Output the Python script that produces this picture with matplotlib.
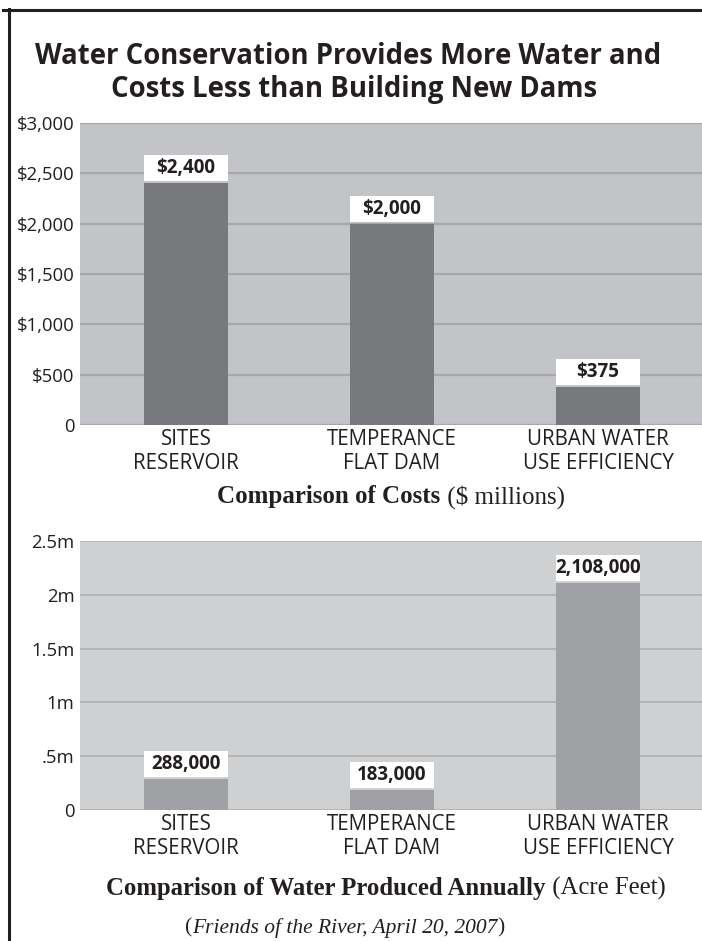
import matplotlib
matplotlib.use("Agg")
import matplotlib.pyplot as plt
from matplotlib import font_manager
from matplotlib.lines import Line2D

# ---------------- data ----------------
categories = ["SITES\nRESERVOIR", "TEMPERANCE\nFLAT DAM", "URBAN WATER\nUSE EFFICIENCY"]
costs = [2400, 2000, 375]
cost_labels = ["$2,400", "$2,000", "$375"]
cost_ticks = [0, 500, 1000, 1500, 2000, 2500, 3000]
cost_tick_labels = ["0", "$500", "$1,000", "$1,500", "$2,000", "$2,500", "$3,000"]
water = [288000, 183000, 2108000]
water_labels = ["288,000", "183,000", "2,108,000"]
water_ticks = [0, 500000, 1000000, 1500000, 2000000, 2500000]
water_tick_labels = ["0", ".5m", "1m", "1.5m", "2m", "2.5m"]

title_lines = ["Water Conservation Provides More Water and",
               "Costs Less than Building New Dams"]
caption1 = [("Comparison of Costs", "bold", "normal"), (" ($ millions)", "normal", "normal")]
caption2 = [("Comparison of Water Produced Annually", "bold", "normal"),
            (" (Acre Feet)", "normal", "normal")]
source = [("(", "normal", "normal"), ("Friends of the River, April 20, 2007", "normal", "italic"),
          (")", "normal", "normal")]

# ---------------- fonts ----------------
available = {f.name for f in font_manager.fontManager.ttflist}
def pick(*names):
    for n in names:
        if n in available:
            return n
    return "DejaVu Sans"
SANS = pick("Open Sans", "Noto Sans", "DejaVu Sans")
SERIF = pick("Liberation Serif", "DejaVu Serif")

W, H = 702, 941
fig = plt.figure(figsize=(W / 100, H / 100), dpi=100)
fig.patch.set_facecolor("white")

def fx(px):
    return px / W

def fy(px):
    return 1 - px / H

TXT = "#231f20"

# frame lines
fig.add_artist(Line2D([fx(3), 1.0], [fy(9.5), fy(9.5)], color=TXT, lw=2.2,
                      transform=fig.transFigure))
fig.add_artist(Line2D([fx(9), fx(9)], [fy(8.5), 0.0], color=TXT, lw=2.2,
                      transform=fig.transFigure))

# title
fig.text(fx(348), fy(56), title_lines[0], ha="center", va="center",
         fontsize=19.8, fontweight="bold", family=SANS, color=TXT)
fig.text(fx(354), fy(89), title_lines[1], ha="center", va="center",
         fontsize=19.8, fontweight="bold", family=SANS, color=TXT)

x = list(range(len(categories)))
XLIM = (-0.515, 2.505)
BW = 0.408

def style_axes(ax, bg, grid_c, ticks, ticklabels, ymax, grid_lw):
    ax.set_facecolor(bg)
    ax.set_xlim(*XLIM)
    ax.set_ylim(0, ymax)
    ax.set_yticks(ticks)
    ax.set_yticklabels(ticklabels, family=SANS, fontsize=13.3, color=TXT)
    ax.set_xticks(x)
    ax.set_xticklabels(categories, family=SANS, fontsize=14.8, color=TXT,
                       linespacing=1.15)
    ax.tick_params(axis="both", length=0)
    ax.tick_params(axis="y", pad=4)
    ax.tick_params(axis="x", pad=3)
    for s in ax.spines.values():
        s.set_visible(False)
    ax.grid(axis="y", color=grid_c, lw=grid_lw)
    ax.set_axisbelow(True)

def value_boxes(ax, vals, labels, ax_px_h, ymax, box_px=26, gap_px=2):
    per_px = ymax / ax_px_h
    bh = box_px * per_px
    gap = gap_px * per_px
    bottoms = [v + gap for v in vals]
    ax.bar(x, [bh] * len(vals), bottom=bottoms, width=BW, color="white", zorder=4)
    for xi, b, lab in zip(x, bottoms, labels):
        ax.text(xi, b + bh / 2, lab, ha="center", va="center", family=SANS,
                fontsize=13.5, fontweight="bold", color=TXT, zorder=5)

# ---------------- top chart ----------------
top_px, bot_px = 123, 425
ax1 = fig.add_axes([fx(80), fy(bot_px), 1 - fx(80), (bot_px - top_px) / H])
style_axes(ax1, "#c3c4c8", "#a7a8ac", cost_ticks, cost_tick_labels, 3000, 1.6)
ax1.bar(x, costs, width=BW, color="#78797d", zorder=3)
value_boxes(ax1, costs, cost_labels, bot_px - top_px, 3000)

# ---------------- bottom chart ----------------
top2, bot2 = 541, 810
ax2 = fig.add_axes([fx(80), fy(bot2), 1 - fx(80), (bot2 - top2) / H])
style_axes(ax2, "#cfd0d2", "#b0b1b4", water_ticks, water_tick_labels, 2500000, 1.3)
ax2.bar(x, water, width=BW, color="#a0a1a5", zorder=3)
value_boxes(ax2, water, water_labels, bot2 - top2, 2500000)

# ---------------- mixed-style captions ----------------
renderer = fig.canvas.get_renderer()

def mixed(pieces, cx, cy, size):
    objs = []
    widths = []
    for s, w, st in pieces:
        t = fig.text(0, fy(cy), s, ha="left", va="center", family=SERIF,
                     fontsize=size, fontweight=w, fontstyle=st, color=TXT)
        objs.append(t)
        widths.append(t.get_window_extent(renderer).width)
    total = sum(widths)
    start = cx - total / 2
    for t, wdt in zip(objs, widths):
        t.set_x(fx(start))
        start += wdt

mixed(caption1, 391, 497, 18)
mixed(caption2, 386, 888, 17.8)
mixed(source, 345, 928, 15.5)

fig.savefig("out.png", dpi=100)
